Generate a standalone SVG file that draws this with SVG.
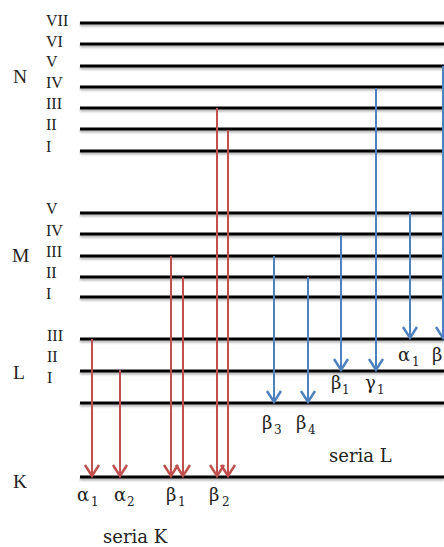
<svg xmlns="http://www.w3.org/2000/svg" width="444" height="547" viewBox="0 0 444 547">
<style>
.lvl{stroke:#000;stroke-width:3;fill:none}
.rn{font-family:"Liberation Serif","Times New Roman",serif;font-size:16px;fill:#222}
.sh{font-family:"Liberation Serif","Times New Roman",serif;font-size:19.5px;fill:#222}
.gr{font-family:"DejaVu Serif","Liberation Serif",serif;font-size:18px;fill:#222}
.sub{font-size:12px}
.ser{font-family:"DejaVu Serif","Liberation Serif",serif;font-size:18px;fill:#222}
.red{stroke:#c0504d;stroke-width:2;fill:none}
.blue{stroke:#4f81bd;stroke-width:2;fill:none}
</style>
<defs>
<filter id="shadow" filterUnits="userSpaceOnUse" x="0" y="0" width="444" height="547">
<feDropShadow dx="0" dy="2" stdDeviation="1" flood-color="#000" flood-opacity="0.3"/>
</filter>
<marker id="ar" markerUnits="userSpaceOnUse" markerWidth="16" markerHeight="18" viewBox="-13 -9 16 18" refX="0" refY="0" orient="auto" overflow="visible">
<path d="M-11,-7 L0,0 L-11,7" fill="none" stroke="#c0504d" stroke-width="2.5"/>
</marker>
<marker id="ab" markerUnits="userSpaceOnUse" markerWidth="16" markerHeight="18" viewBox="-13 -9 16 18" refX="0" refY="0" orient="auto" overflow="visible">
<path d="M-11,-7 L0,0 L-11,7" fill="none" stroke="#4f81bd" stroke-width="2.5"/>
</marker>
</defs>
<rect width="444" height="547" fill="#fff"/>

<g id="shell-N">
<text class="sh" x="13" y="83">N</text>
<g filter="url(#shadow)">
<line class="lvl" x1="80" y1="23" x2="444" y2="23"/>
<line class="lvl" x1="80" y1="44" x2="444" y2="44"/>
<line class="lvl" x1="80" y1="66" x2="444" y2="66"/>
<line class="lvl" x1="80" y1="87" x2="444" y2="87"/>
<line class="lvl" x1="80" y1="108" x2="444" y2="108"/>
<line class="lvl" x1="80" y1="129" x2="444" y2="129"/>
<line class="lvl" x1="80" y1="151" x2="444" y2="151"/>
</g>
<text class="rn" x="46" y="26">VII</text>
<text class="rn" x="46" y="47">VI</text>
<text class="rn" x="46" y="67">V</text>
<text class="rn" x="46" y="88">IV</text>
<text class="rn" x="46" y="109">III</text>
<text class="rn" x="46" y="130">II</text>
<text class="rn" x="46" y="152">I</text>
</g>

<g id="shell-M">
<text class="sh" x="12" y="262">M</text>
<g filter="url(#shadow)">
<line class="lvl" x1="80" y1="213" x2="444" y2="213"/>
<line class="lvl" x1="80" y1="234" x2="444" y2="234"/>
<line class="lvl" x1="80" y1="256" x2="444" y2="256"/>
<line class="lvl" x1="80" y1="277" x2="444" y2="277"/>
<line class="lvl" x1="80" y1="297" x2="444" y2="297"/>
</g>
<text class="rn" x="46" y="214">V</text>
<text class="rn" x="46" y="236">IV</text>
<text class="rn" x="46" y="257">III</text>
<text class="rn" x="46" y="278">II</text>
<text class="rn" x="46" y="299">I</text>
</g>

<g id="shell-L">
<text class="sh" x="13" y="379">L</text>
<g filter="url(#shadow)">
<line class="lvl" x1="80" y1="339" x2="444" y2="339"/>
<line class="lvl" x1="80" y1="371" x2="444" y2="371"/>
<line class="lvl" x1="80" y1="403" x2="444" y2="403"/>
</g>
<text class="rn" x="47" y="341">III</text>
<text class="rn" x="47" y="362">II</text>
<text class="rn" x="47" y="383">I</text>
</g>

<g id="shell-K">
<text class="sh" x="13" y="488">K</text>
<g filter="url(#shadow)">
<line class="lvl" x1="80" y1="477" x2="444" y2="477"/>
</g>
</g>

<g id="connectors">
<line class="red" x1="92" y1="339" x2="92" y2="476" marker-end="url(#ar)"/>
<line class="red" x1="120" y1="370" x2="120" y2="476" marker-end="url(#ar)"/>
<line class="red" x1="171" y1="256" x2="171" y2="476" marker-end="url(#ar)"/>
<line class="red" x1="183" y1="277" x2="183" y2="476" marker-end="url(#ar)"/>
<line class="red" x1="217" y1="108" x2="217" y2="476" marker-end="url(#ar)"/>
<line class="red" x1="228" y1="130" x2="228" y2="476" marker-end="url(#ar)"/>
<line class="blue" x1="274" y1="256" x2="274" y2="402" marker-end="url(#ab)"/>
<line class="blue" x1="308" y1="277" x2="308" y2="402" marker-end="url(#ab)"/>
<line class="blue" x1="341" y1="235" x2="341" y2="370" marker-end="url(#ab)"/>
<line class="blue" x1="376" y1="88" x2="376" y2="370" marker-end="url(#ab)"/>
<line class="blue" x1="410" y1="213" x2="410" y2="338" marker-end="url(#ab)"/>
<line class="blue" x1="443" y1="66" x2="443" y2="338" marker-end="url(#ab)"/>
</g>

<g id="labels-K">
<text class="gr" x="77" y="501">α<tspan class="sub" x="91" dy="5">1</tspan></text>
<text class="gr" x="114" y="501">α<tspan class="sub" x="127" dy="5">2</tspan></text>
<text class="gr" x="166" y="501">β<tspan class="sub" x="178" dy="5">1</tspan></text>
<text class="gr" x="209" y="501">β<tspan class="sub" x="222" dy="5">2</tspan></text>
<text class="ser" x="103" y="543">seria K</text>
</g>

<g id="labels-L">
<text class="gr" x="262" y="429">β<tspan class="sub" x="274" dy="5">3</tspan></text>
<text class="gr" x="296" y="429">β<tspan class="sub" x="308" dy="5">4</tspan></text>
<text class="gr" x="331" y="389">β<tspan class="sub" x="342" dy="5">1</tspan></text>
<text class="gr" x="365" y="389">γ<tspan class="sub" x="377" dy="5">1</tspan></text>
<text class="gr" x="398" y="361">α<tspan class="sub" x="412" dy="5">1</tspan></text>
<text class="gr" x="432" y="361">β</text>
<text class="ser" x="329" y="462">seria L</text>
</g>
</svg>
